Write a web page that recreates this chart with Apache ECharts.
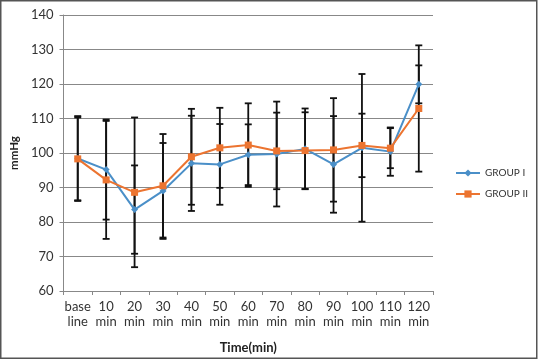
<!DOCTYPE html>
<html>
<head>
<meta charset="utf-8">
<script src="https://cdn.jsdelivr.net/npm/echarts@6/dist/echarts.min.js"></script>
<style>
  html, body { margin: 0; padding: 0; background: #fff; }
  #chart { width: 538px; height: 360px; }
</style>
</head>
<body>
<div id="chart"></div>
<script>
const chart = echarts.init(document.getElementById("chart"));

// data
const categories = ["base\nline", "10\nmin", "20\nmin", "30\nmin", "40\nmin", "50\nmin",
  "60\nmin", "70\nmin", "80\nmin", "90\nmin", "100\nmin", "110\nmin", "120\nmin"];

const group1Mean = [98.4, 95.2, 83.6, 89.0, 97.0, 96.7, 99.5, 99.7, 101.2, 96.7, 101.5, 100.4, 119.9];
const group1Sd   = [12.3, 14.5, 12.8, 13.9, 13.8, 11.7, 8.8, 15.2, 11.7, 14.0, 21.4, 7.0, 5.5];

const group2Mean = [98.3, 92.2, 88.6, 90.5, 98.9, 101.5, 102.3, 100.6, 100.7, 100.9, 102.2, 101.4, 112.9];
const group2Sd   = [12.0, 17.1, 21.7, 15.0, 13.9, 11.6, 12.1, 11.1, 11.1, 15.0, 9.2, 5.8, 18.3];

const BLUE = "#4a8fc8";
const ORANGE = "#ec7430";
const FONT = "Lato";

function errorData(mean, sd) {
  return mean.map((m, i) => [i, m, sd[i]]);
}

function renderErrorBar(params, api) {
  const x = api.value(0);
  const m = api.value(1);
  const s = api.value(2);
  const top = api.coord([x, m + s]);
  const bot = api.coord([x, m - s]);
  const hw = 3.5;
  const style = { stroke: "#111", lineWidth: 1.8 };
  return {
    type: "group",
    children: [
      { type: "line", shape: { x1: top[0], y1: top[1], x2: bot[0], y2: bot[1] }, style },
      { type: "line", shape: { x1: top[0] - hw, y1: top[1], x2: top[0] + hw, y2: top[1] }, style },
      { type: "line", shape: { x1: bot[0] - hw, y1: bot[1], x2: bot[0] + hw, y2: bot[1] }, style }
    ]
  };
}

chart.setOption({
  animation: false,
  backgroundColor: "#fff",
  textStyle: { fontFamily: FONT },
  graphic: [
    {
      type: "rect",
      shape: { x: 0.75, y: 0.75, width: 536, height: 357.5 },
      style: { fill: "none", stroke: "#555", lineWidth: 1.5 },
      silent: true
    }
  ],
  grid: { left: 58, right: 105, top: 15, bottom: 69 },
  legend: {
    orient: "vertical",
    left: 450,
    top: 163,
    itemWidth: 24,
    itemHeight: 9,
    itemGap: 11,
    textStyle: { fontFamily: FONT, fontSize: 10, color: "#333" },
    data: ["GROUP I", "GROUP II"]
  },
  xAxis: {
    type: "category",
    data: categories,
    boundaryGap: true,
    name: "Time(min)",
    nameLocation: "middle",
    nameGap: 50,
    nameTextStyle: { fontFamily: FONT, fontWeight: "bold", fontSize: 13, color: "#222" },
    axisLine: { lineStyle: { color: "#888", width: 1 } },
    axisTick: { show: true, length: 4, lineStyle: { color: "#888" } },
    axisLabel: { fontFamily: FONT, fontSize: 13, color: "#333", lineHeight: 15, margin: 8, interval: 0 }
  },
  yAxis: {
    type: "value",
    min: 60,
    max: 140,
    interval: 10,
    name: "mmHg",
    nameLocation: "middle",
    nameGap: 38,
    nameRotate: 90,
    nameTextStyle: { fontFamily: FONT, fontWeight: "bold", fontSize: 11.5, color: "#222" },
    axisLine: { show: true, lineStyle: { color: "#888", width: 1 } },
    axisTick: { show: true, length: 4, lineStyle: { color: "#888" } },
    axisLabel: { fontFamily: FONT, fontSize: 13, color: "#333", margin: 10 },
    splitLine: { lineStyle: { color: "#888", width: 1.2 } }
  },
  series: [
    {
      name: "errI",
      type: "custom",
      renderItem: renderErrorBar,
      data: errorData(group1Mean, group1Sd),
      encode: { x: 0, y: 1 },
      z: 1,
      silent: true
    },
    {
      name: "errII",
      type: "custom",
      renderItem: renderErrorBar,
      data: errorData(group2Mean, group2Sd),
      encode: { x: 0, y: 1 },
      z: 1,
      silent: true
    },
    {
      name: "GROUP I",
      type: "line",
      data: group1Mean,
      symbol: "diamond",
      symbolSize: 7,
      lineStyle: { color: BLUE, width: 2 },
      itemStyle: { color: BLUE },
      z: 3
    },
    {
      name: "GROUP II",
      type: "line",
      data: group2Mean,
      symbol: "rect",
      symbolSize: 7,
      lineStyle: { color: ORANGE, width: 2 },
      itemStyle: { color: ORANGE },
      z: 4
    }
  ]
});
</script>
</body>
</html>
